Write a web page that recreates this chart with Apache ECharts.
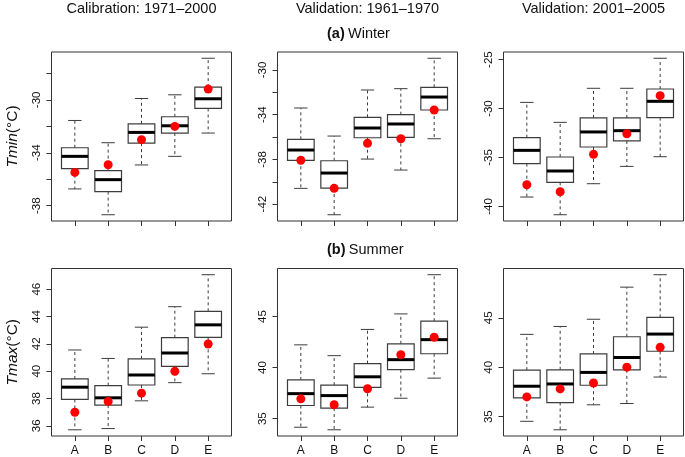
<!DOCTYPE html>
<html><head><meta charset="utf-8">
<script src="https://cdn.jsdelivr.net/npm/echarts@6/dist/echarts.min.js"></script>
<style>html,body{margin:0;padding:0;background:#fff}#c{width:685px;height:457px}</style>
</head><body><div id="c"></div>
<script>
const categories = ['A', 'B', 'C', 'D', 'E'];
const colTitles = ['Calibration: 1971\u20132000', 'Validation: 1961\u20131970', 'Validation: 2001\u20132005'];
const rowTitles = [['(a)', 'Winter'], ['(b)', 'Summer']];

// Each box: [lower whisker, Q1, median, Q3, upper whisker]
const tminCal = [
  [-36.73, -35.20, -34.27, -33.62, -31.56],
  [-38.68, -36.93, -36.03, -35.35, -33.24],
  [-34.92, -33.27, -32.46, -31.81, -29.90],
  [-34.27, -32.51, -31.96, -31.28, -29.62],
  [-32.51, -30.65, -29.92, -29.04, -26.86]
];
const tminCalObs = [-35.48, -34.90, -33.01, -32.01, -29.19];

const tminVal1 = [
  [-40.59, -38.08, -37.16, -36.20, -33.40],
  [-42.95, -40.56, -39.22, -38.12, -35.91],
  [-37.97, -36.06, -35.19, -34.24, -31.79],
  [-38.95, -36.03, -34.83, -34.00, -31.67],
  [-36.15, -33.58, -32.42, -31.55, -28.95]
];
const tminVal1Obs = [-38.08, -40.59, -36.56, -36.15, -33.58];

const tminVal2 = [
  [-39.04, -35.63, -34.27, -32.98, -29.37],
  [-40.85, -37.54, -36.38, -34.95, -31.41],
  [-37.68, -33.93, -32.39, -30.96, -27.93],
  [-35.91, -33.31, -32.26, -30.96, -27.93],
  [-34.92, -30.93, -29.26, -28.00, -24.86]
];
const tminVal2Obs = [-37.78, -38.50, -34.68, -32.57, -28.68];

const tmaxCal = [
  [35.71, 37.93, 38.83, 39.43, 41.55],
  [35.80, 37.52, 38.05, 38.94, 40.93],
  [37.83, 38.99, 39.72, 40.90, 43.22],
  [39.16, 40.35, 41.33, 42.45, 44.72],
  [39.81, 42.47, 43.39, 44.38, 47.06]
];
const tmaxCalObs = [36.99, 37.78, 38.39, 39.99, 41.99];

const tmaxVal1 = [
  [34.16, 36.29, 37.45, 38.80, 42.23],
  [33.91, 36.04, 37.26, 38.29, 41.17],
  [36.13, 38.07, 39.10, 40.39, 43.74],
  [37.00, 39.81, 40.78, 42.33, 45.26],
  [38.97, 41.36, 42.74, 44.55, 49.10]
];
const tmaxVal1Obs = [36.94, 36.36, 37.93, 41.26, 42.97];

const tmaxVal2 = [
  [34.53, 36.91, 38.08, 39.71, 43.33],
  [33.67, 36.43, 38.31, 39.74, 44.13],
  [36.20, 38.18, 39.48, 41.35, 44.86],
  [36.33, 39.74, 40.99, 43.09, 48.11],
  [39.01, 41.62, 43.36, 45.06, 49.37]
];
const tmaxVal2Obs = [37.00, 37.81, 38.41, 40.01, 42.02];

// Tick positions and labelled ticks
const ticksCalW = [-38, -36, -34, -32, -30, -28];
const labelsCalW = [-38, -34, -30];
const ticksV1W = [-42, -40, -38, -36, -34, -32, -30];
const labelsV1W = [-42, -38, -34, -30];
const ticksV2W = [-40, -35, -30, -25];
const labelsV2W = [-40, -35, -30, -25];
const ticksCalS = [36, 38, 40, 42, 44, 46];
const labelsCalS = [36, 38, 40, 42, 44, 46];
const ticksV1S = [35, 40, 45];
const labelsV1S = [35, 40, 45];
const ticksV2S = [35, 40, 45];
const labelsV2S = [35, 40, 45];

const panels = [
  { box: tminCal, obs: tminCalObs, ticks: ticksCalW, labels: labelsCalW },
  { box: tminVal1, obs: tminVal1Obs, ticks: ticksV1W, labels: labelsV1W },
  { box: tminVal2, obs: tminVal2Obs, ticks: ticksV2W, labels: labelsV2W },
  { box: tmaxCal, obs: tmaxCalObs, ticks: ticksCalS, labels: labelsCalS },
  { box: tmaxVal1, obs: tmaxVal1Obs, ticks: ticksV1S, labels: labelsV1S },
  { box: tmaxVal2, obs: tmaxVal2Obs, ticks: ticksV2S, labels: labelsV2S }
];

const FONT = 'Arial, "Liberation Sans", Helvetica, sans-serif';
const colLeft = [51.5, 277.5, 503.5];
const rowTop = [52, 268.5];
const GW = 180, GH = 169;
const axisColor = '#333';
const xIdx = categories.map((c, i) => i + 1);

function renderBox(params, api) {
  const x = api.value(0);
  const pLo = api.coord([x, api.value(1)]);
  const pQ1 = api.coord([x, api.value(2)]);
  const pMed = api.coord([x, api.value(3)]);
  const pQ3 = api.coord([x, api.value(4)]);
  const pHi = api.coord([x, api.value(5)]);
  const bw = api.size([0.8, 0])[0];
  const cx = pLo[0];
  const stroke = '#3c3c3c';
  return {
    type: 'group',
    children: [
      { type: 'line', shape: { x1: cx, y1: pQ3[1], x2: cx, y2: pHi[1] }, style: { stroke, lineWidth: 1, lineDash: [3, 3] } },
      { type: 'line', shape: { x1: cx, y1: pQ1[1], x2: cx, y2: pLo[1] }, style: { stroke, lineWidth: 1, lineDash: [3, 3] } },
      { type: 'line', shape: { x1: cx - bw / 4, y1: pHi[1], x2: cx + bw / 4, y2: pHi[1] }, style: { stroke, lineWidth: 1 } },
      { type: 'line', shape: { x1: cx - bw / 4, y1: pLo[1], x2: cx + bw / 4, y2: pLo[1] }, style: { stroke, lineWidth: 1 } },
      { type: 'rect', shape: { x: cx - bw / 2, y: pQ3[1], width: bw, height: pQ1[1] - pQ3[1] }, style: { fill: '#fff', stroke, lineWidth: 1.2 } },
      { type: 'line', shape: { x1: cx - bw / 2, y1: pMed[1], x2: cx + bw / 2, y2: pMed[1] }, style: { stroke: '#000', lineWidth: 3 } }
    ]
  };
}

const grids = [], xAxes = [], yAxes = [], series = [];
panels.forEach((p, k) => {
  const row = Math.floor(k / 3), col = k % 3;
  grids.push({ left: colLeft[col], top: rowTop[row], width: GW, height: GH, show: true,
    borderColor: axisColor, borderWidth: 1, backgroundColor: 'transparent', containLabel: false });
  const n = categories.length;
  xAxes.push({ type: 'value', gridIndex: k, min: 0.5 - 0.04 * n, max: n + 0.5 + 0.04 * n,
    axisLine: { show: false, onZero: false }, splitLine: { show: false },
    axisTick: { show: true, length: 5, customValues: xIdx, lineStyle: { color: axisColor } },
    axisLabel: { show: row === 1, customValues: xIdx, margin: 9, fontSize: 12, color: '#111', fontFamily: FONT,
      formatter: v => categories[Math.round(v) - 1] } });
  const all = p.box.flat().concat(p.obs);
  const lo = Math.min(...all), hi = Math.max(...all), r = hi - lo;
  const y = { type: 'value', gridIndex: k, min: lo - 0.04 * r, max: hi + 0.04 * r,
    axisLine: { show: false, onZero: false }, splitLine: { show: false },
    axisTick: { show: true, length: 5, customValues: p.ticks, lineStyle: { color: axisColor } },
    axisLabel: { customValues: p.labels, rotate: 90, margin: 9, fontSize: 11.5, color: '#111', fontFamily: FONT } };
  if (col === 0) {
    const nm = row === 0 ? 'Tmin' : 'Tmax';
    y.name = '{i|' + nm + '}{n|(\u00B0C)}';
    y.nameLocation = 'middle';
    y.nameGap = 31;
    y.nameTextStyle = { rich: {
      i: { fontStyle: 'italic', fontSize: 15.5, fontFamily: FONT, color: '#111' },
      n: { fontSize: 15.5, fontFamily: FONT, color: '#111' } } };
  }
  yAxes.push(y);
  series.push({ type: 'custom', xAxisIndex: k, yAxisIndex: k, renderItem: renderBox,
    encode: { x: 0, y: [1, 2, 3, 4, 5] }, silent: true, z: 2,
    data: p.box.map((b, i) => [xIdx[i]].concat(b)) });
  series.push({ type: 'scatter', xAxisIndex: k, yAxisIndex: k, symbol: 'circle', symbolSize: 9,
    itemStyle: { color: '#ff0000', opacity: 1 }, silent: true, z: 3,
    data: p.obs.map((v, i) => [xIdx[i], v]) });
});

const graphics = [];
colTitles.forEach((t, c) => {
  graphics.push({ type: 'text', x: colLeft[c] + GW / 2, y: 9,
    style: { text: t, fontSize: 14.5, fontFamily: FONT, fill: '#111', align: 'center', verticalAlign: 'middle' } });
});
const rowTitleY = [33.5, 250];
rowTitles.forEach((rt, r) => {
  graphics.push({ type: 'text', x: 327, y: rowTitleY[r],
    style: { text: '{b|' + rt[0] + '} {n|' + rt[1] + '}', verticalAlign: 'middle', align: 'left',
      rich: { b: { fontWeight: 'bold', fontSize: 14.5, fontFamily: FONT, fill: '#111' },
              n: { fontSize: 14.5, fontFamily: FONT, fill: '#111' } } } });
});

const chart = echarts.init(document.getElementById('c'), null, { renderer: 'canvas' });
chart.setOption({
  animation: false,
  backgroundColor: '#fff',
  grid: grids, xAxis: xAxes, yAxis: yAxes, series, graphic: graphics
});
</script>
</body></html>
